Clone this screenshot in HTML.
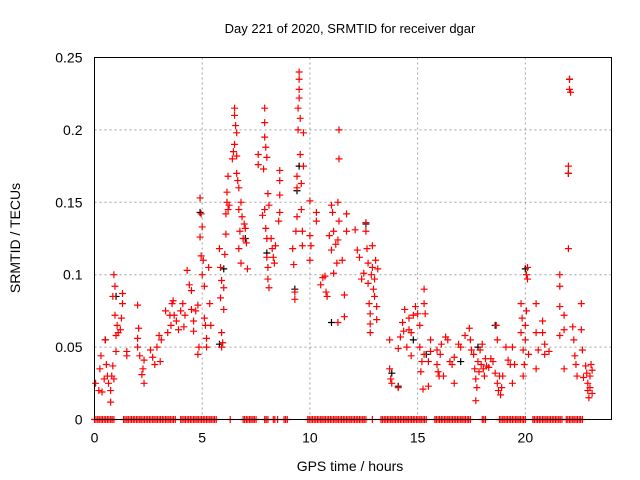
<!DOCTYPE html>
<html><head><meta charset="utf-8"><style>
html,body{margin:0;padding:0;background:#fff}
svg{display:block;font-family:"Liberation Sans",sans-serif}
</style></head><body>
<svg id="chart" width="640" height="480" viewBox="0 0 640 480" xmlns="http://www.w3.org/2000/svg">
<rect width="640" height="480" fill="#fff"/>
<text x="350" y="33" font-size="13" text-anchor="middle">Day 221 of 2020, SRMTID for receiver dgar</text>
<text x="350" y="471" font-size="14" text-anchor="middle">GPS time / hours</text>
<text transform="translate(20,238) rotate(-90)" font-size="14" text-anchor="middle">SRMTID / TECUs</text>
<g id="grid"></g>
<g id="ticks"></g>
<g id="marks"></g>
<rect x="94.5" y="57.5" width="517" height="362" fill="none" stroke="#000" stroke-width="1"/>
</svg>
<script>
const xTicks=[0,5,10,15,20];
const yTicks=[0,0.05,0.1,0.15,0.2,0.25];
const yTickLabels=["0","0.05","0.1","0.15","0.2","0.25"];
const redPts=[[0.05,0.025],[0.2,0.02],[0.25,0.035],[0.3,0.044],[0.35,0.019],[0.45,0.028],[0.5,0.055],[0.55,0.038],[0.6,0.03],[0.65,0.025],[0.75,0.012],[0.75,0.02],[0.8,0.03],[0.85,0.037],[0.85,0.085],[0.9,0.1],[0.9,0.028],[0.95,0.092],[0.95,0.072],[1.0,0.058],[1.0,0.047],[1.05,0.065],[1.1,0.06],[1.2,0.062],[1.25,0.07],[1.3,0.087],[1.3,0.08],[1.5,0.047],[1.5,0.044],
[2.0,0.079],[2.0,0.056],[2.0,0.05],[2.05,0.063],[2.1,0.044],[2.2,0.031],[2.25,0.035],[2.3,0.025],[2.3,0.041],[2.6,0.048],[2.7,0.043],[2.8,0.038],[2.9,0.05],[3.05,0.04],[3.0,0.058],[3.1,0.055],
[3.3,0.075],[3.4,0.06],[3.5,0.072],[3.55,0.065],[3.6,0.08],[3.65,0.082],[3.7,0.072],[3.8,0.068],[3.9,0.062],[4.0,0.075],[4.1,0.08],[4.15,0.064],[4.2,0.072],[4.3,0.103],[4.4,0.093],[4.5,0.089],[4.5,0.076],[4.6,0.068],[4.6,0.061],[4.7,0.075],[4.8,0.079],[4.8,0.045],[4.85,0.05],[4.9,0.126],[4.9,0.153],[4.95,0.142],[4.95,0.113],[5.0,0.133],[5.0,0.1],[5.05,0.11],[5.1,0.092],[5.1,0.07],[5.15,0.065],[5.2,0.056],[5.2,0.05],[5.4,0.065],[5.3,0.105],[5.35,0.08],
[5.8,0.118],[5.85,0.105],[5.9,0.096],[5.85,0.084],[5.9,0.06],[5.9,0.05],[5.95,0.053],[6.0,0.076],[6.0,0.091],[6.05,0.114],[6.1,0.128],[6.1,0.142],[6.15,0.15],[6.15,0.157],[6.2,0.168],[6.2,0.145],[6.25,0.148],
[6.4,0.18],[6.45,0.185],[6.5,0.19],[6.5,0.21],[6.5,0.215],[6.55,0.203],[6.6,0.198],[6.6,0.182],[6.6,0.17],[6.65,0.165],[6.7,0.16],[6.7,0.145],[6.75,0.13],[6.7,0.118],[6.8,0.108],[6.8,0.15],[6.85,0.14],[6.9,0.125],[6.95,0.135],[7.0,0.132],[7.05,0.122],[7.1,0.104],
[7.6,0.183],[7.6,0.176],[7.8,0.141],[7.85,0.173],[7.9,0.215],[7.9,0.205],[7.9,0.195],[7.95,0.188],[8.0,0.181],[7.9,0.145],[7.95,0.132],[8.0,0.125],[8.0,0.112],[8.05,0.105],[8.05,0.097],[8.1,0.091],[8.05,0.156],[8.1,0.148],[8.2,0.125],[8.25,0.118],[8.3,0.112],[8.35,0.108],[8.4,0.12],[8.55,0.137],[8.6,0.143],[8.6,0.155],[8.6,0.165],[8.6,0.172],
[9.2,0.118],[9.25,0.107],[9.3,0.088],[9.3,0.083],[9.35,0.13],[9.4,0.14],[9.4,0.16],[9.4,0.168],[9.45,0.2],[9.45,0.215],[9.5,0.222],[9.5,0.228],[9.5,0.235],[9.5,0.24],[9.55,0.208],[9.55,0.183],[9.6,0.163],[9.6,0.145],[9.65,0.13],[9.65,0.12],[9.7,0.198],[9.7,0.175],
[10.0,0.151],[10.0,0.127],[10.0,0.11],[10.05,0.12],[10.3,0.143],[10.3,0.137],[10.5,0.093],[10.6,0.098],[10.7,0.099],[10.75,0.088],[10.8,0.085],[10.9,0.127],[11.0,0.148],[11.0,0.117],[11.05,0.143],[11.1,0.13],[11.1,0.101],[11.2,0.121],[11.25,0.108],[11.3,0.067],[11.3,0.15],[11.3,0.124],[11.35,0.137],[11.35,0.2],[11.35,0.18],[11.5,0.11],[11.6,0.086],[11.6,0.071],[11.7,0.142],[11.7,0.13],
[12.1,0.131],[12.2,0.117],[12.3,0.112],[12.4,0.097],[12.5,0.101],[12.6,0.13],[12.6,0.136],[12.65,0.118],[12.7,0.108],[12.7,0.094],[12.75,0.08],[12.8,0.073],[12.8,0.06],[12.8,0.066],[12.85,0.1],[12.9,0.12],[12.9,0.105],[12.95,0.09],[13.0,0.085],[13.0,0.097],[13.05,0.11],[13.1,0.078],[13.1,0.069],[13.15,0.104],
[13.7,0.055],[13.7,0.035],[13.75,0.028],[13.8,0.025],[14.1,0.022],[14.1,0.049],[14.2,0.057],[14.3,0.067],[14.35,0.061],[14.4,0.076],[14.5,0.05],[14.6,0.07],[14.6,0.062],[14.7,0.044],[14.7,0.06],[14.8,0.072],[14.9,0.078],[15.0,0.073],
[15.1,0.065],[15.1,0.05],[15.15,0.033],[15.2,0.04],[15.25,0.021],[15.3,0.045],[15.3,0.09],[15.3,0.08],[15.35,0.073],[15.5,0.04],[15.5,0.023],[15.6,0.055],[15.6,0.047],[15.9,0.048],[15.9,0.038],[15.95,0.033],[16.0,0.03],[16.05,0.045],[16.1,0.052],[16.2,0.03],[16.3,0.057],[16.4,0.055],[16.5,0.04],[16.6,0.038],[16.7,0.043],[16.7,0.025],[16.9,0.052],[17.0,0.05],
[17.2,0.058],[17.4,0.063],[17.45,0.055],[17.5,0.048],[17.6,0.045],[17.65,0.035],[17.7,0.028],[17.7,0.013],[17.75,0.022],[17.8,0.04],[17.85,0.033],[17.9,0.048],[17.95,0.038],[18.0,0.052],[18.05,0.035],[18.1,0.03],[18.15,0.042],[18.2,0.037],[18.3,0.036],[18.4,0.042],[18.5,0.04],[18.6,0.032],[18.65,0.065],[18.7,0.055],[18.7,0.025],[18.75,0.02],[18.8,0.03],[18.85,0.017],[18.9,0.022],[18.95,0.03],[19.1,0.05],[19.2,0.041],[19.3,0.038],[19.4,0.05],[19.4,0.025],[19.5,0.038],
[19.8,0.08],[19.8,0.06],[19.85,0.07],[19.9,0.03],[19.9,0.048],[19.95,0.038],[20.0,0.055],[20.0,0.065],[20.05,0.075],[20.05,0.1],[20.1,0.105],[20.1,0.097],[20.15,0.045],
[20.5,0.08],[20.5,0.06],[20.5,0.035],[20.6,0.048],[20.8,0.068],[20.8,0.06],[20.9,0.052],[20.9,0.045],[21.1,0.047],[21.6,0.1],[21.6,0.092],[21.6,0.078],[21.6,0.058],[22.0,0.175],[22.0,0.17],[22.0,0.118],[22.05,0.235],[22.05,0.228],[22.1,0.226],[21.8,0.072],[21.8,0.062],[21.8,0.035],[22.2,0.064],[22.25,0.055],[22.3,0.044],[22.35,0.038],[22.4,0.03],[22.6,0.08],[22.6,0.062],[22.65,0.048],[22.7,0.029],[22.8,0.037],[22.85,0.032],[22.9,0.025],[22.9,0.02],[22.95,0.015],[23.0,0.03],[23.0,0.022],[23.05,0.038],[23.1,0.034],[23.1,0.018]];
const zeroTimes=[0,0.07,0.15,0.22,0.3,0.37,0.45,0.52,0.6,0.67,0.75,0.82,0.9,1.35,1.42,1.5,1.57,1.65,1.72,1.8,1.87,1.95,2.02,2.1,2.17,2.25,2.32,2.4,2.47,2.55,2.62,2.7,2.77,2.85,2.92,3.0,3.07,3.15,3.22,3.3,3.37,3.45,3.52,3.6,3.67,3.75,4.0,4.07,4.15,4.22,4.3,4.37,4.45,4.52,4.6,4.67,4.75,4.82,4.9,4.97,5.05,5.12,5.2,5.27,5.35,5.42,5.5,5.57,5.65,6.3,6.9,6.97,7.05,7.12,7.2,7.27,7.35,7.42,7.5,7.9,7.97,8.05,8.3,8.37,8.5,8.8,8.87,8.95,9.9,9.97,10.05,10.12,10.2,10.27,10.35,10.42,10.5,10.57,10.65,10.72,10.8,10.87,10.95,11.02,11.1,11.17,11.25,11.32,11.4,11.47,11.55,11.62,11.7,11.77,11.85,11.92,12.0,12.07,12.15,12.22,12.3,12.37,12.45,12.52,12.6,12.9,13.3,13.37,13.45,13.52,13.6,13.67,13.75,13.82,13.9,13.97,14.05,14.12,14.2,14.27,14.35,14.42,14.5,14.57,14.65,14.72,14.8,14.87,14.95,15.02,15.1,15.17,15.25,15.32,15.4,15.8,15.87,15.95,16.02,16.1,16.17,16.25,16.32,16.4,16.47,16.55,16.62,16.7,16.77,16.85,16.92,17.0,17.07,17.15,17.22,17.3,17.37,17.45,18.0,18.07,18.15,18.8,18.87,18.95,19.02,19.1,19.17,19.25,19.32,19.4,19.47,19.55,19.62,19.7,19.77,19.85,19.92,20.0,20.35,20.42,20.5,20.57,20.65,20.72,20.8,20.87,20.95,21.02,21.1,21.17,21.25,21.32,21.4,21.47,21.55,21.62,21.7,21.9,21.97,22.05,22.12,22.2,22.27,22.35,22.42,22.5,22.57,22.65];
const blackPts=[[0.5,0.055],[1.0,0.085],[4.9,0.143],[5.8,0.052],[6.0,0.104],[7.0,0.125],[8.0,0.115],[9.5,0.175],[9.4,0.158],[9.3,0.09],[11.0,0.067],[12.6,0.135],[13.8,0.032],[14.1,0.023],[14.8,0.055],[17.8,0.05],[18.6,0.065],[20.0,0.104],[22.05,0.235],[22.0,0.17],[15.4,0.045],[17.0,0.04]];

const L=94.5,R=611.5,T=57.5,B=419.5;
const xS=t=>L+(R-L)*t/24;
const yS=v=>B-(B-T)*v/0.25;
const NS="http://www.w3.org/2000/svg";
function mk(tag,parent){const e=document.createElementNS(NS,tag);parent.appendChild(e);return e;}
const grid=document.getElementById('grid'),ticks=document.getElementById('ticks'),marks=document.getElementById('marks');
xTicks.forEach(t=>{
  const x=xS(t);
  if(t>0){const g=mk('line',grid);
    
    
    g.setAttribute('x1',x);g.setAttribute('x2',x);g.setAttribute('y1',T);g.setAttribute('y2',B);
    g.setAttribute('stroke','#a0a0a0');g.setAttribute('stroke-dasharray','2,3');}
  const lb=mk('text',ticks);
  
  
  lb.setAttribute('x',x);lb.setAttribute('y',B+23);lb.setAttribute('font-size','14');lb.setAttribute('text-anchor','middle');
  lb.textContent=String(t);
});
yTicks.forEach((v,i)=>{
  const y=yS(v);
  if(v>0&&v<0.25){const g=mk('line',grid);
    
    
    g.setAttribute('x1',L);g.setAttribute('x2',R);g.setAttribute('y1',y);g.setAttribute('y2',y);
    g.setAttribute('stroke','#a0a0a0');g.setAttribute('stroke-dasharray','2,3');}
  const lb=mk('text',ticks);
  
  
  lb.setAttribute('x',L-12);lb.setAttribute('y',y+5);lb.setAttribute('font-size','14');lb.setAttribute('text-anchor','end');
  lb.textContent=yTickLabels[i];
});
function plus(t,v,color,name){
  const x=xS(t),y=yS(v);
  const p=mk('path',marks);
  
  
  p.setAttribute('d',`M${x-3.5} ${y}H${x+3.5}M${x} ${y-3.5}V${y+3.5}`);
  p.setAttribute('stroke',color);p.setAttribute('stroke-width','1.2');
}
blackPts.forEach(d=>plus(d[0],d[1],'#000','black-point'));
redPts.forEach(d=>plus(d[0],d[1],'#f00','red-point'));
zeroTimes.forEach(t=>plus(t,0,'#f00','zero-point'));
</script>
</body></html>
